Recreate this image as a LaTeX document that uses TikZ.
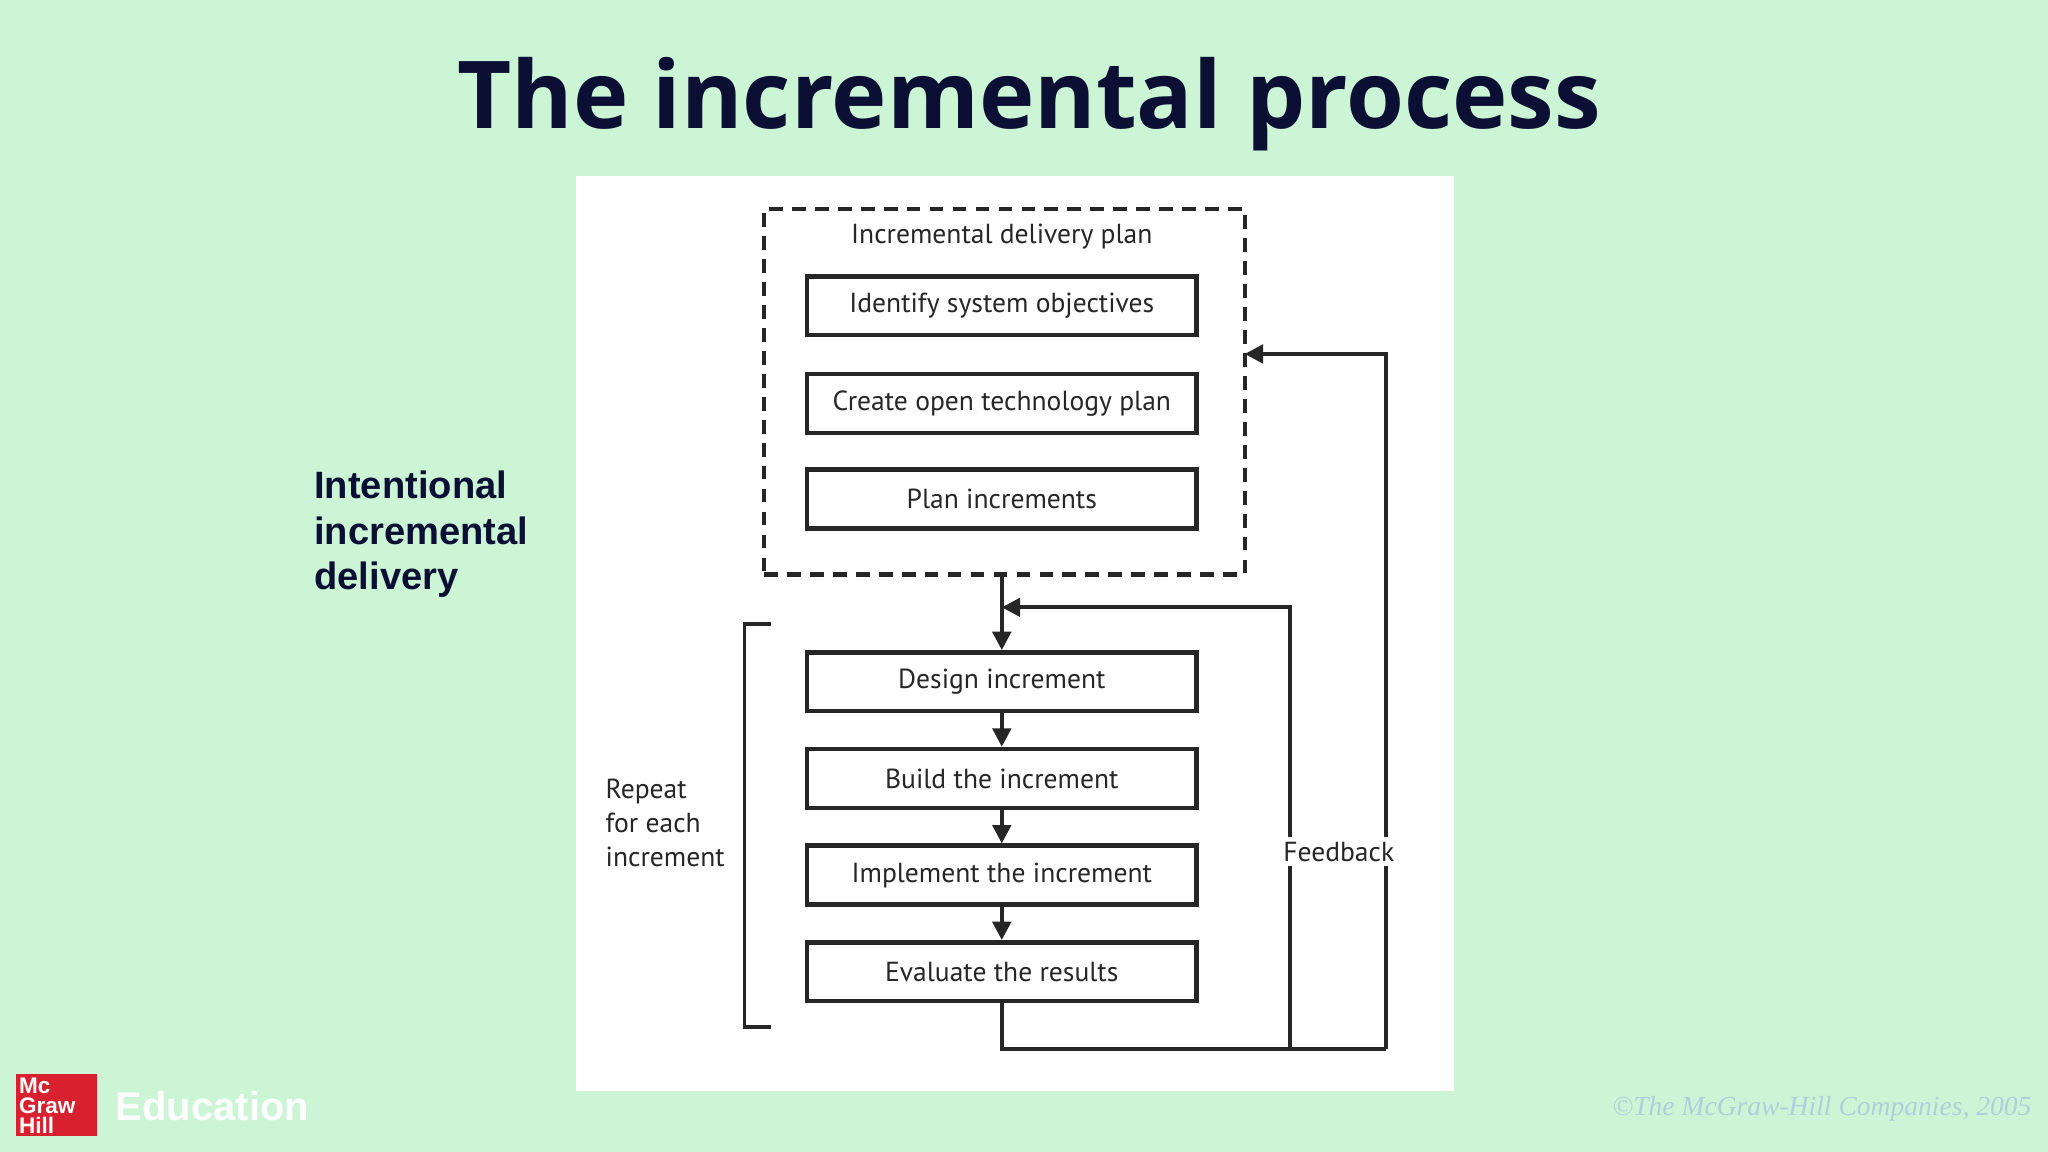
\documentclass[tikz,border=0pt]{standalone}
\usepackage{fontspec}
\setmainfont{Open Sans}
\newfontfamily\ttl{Open Sans}
\newfontfamily\arl{Liberation Sans}
\newfontfamily\dia{PT Sans}
\newfontfamily\cpy{Liberation Serif}
\usetikzlibrary{arrows.meta}
\definecolor{bg}{HTML}{CCF5D6}
\definecolor{navy}{HTML}{0A0F33}
\definecolor{mhred}{HTML}{D9202E}
\begin{document}
\begin{tikzpicture}[x=0.01cm,y=-0.01cm,
 box/.style={draw=black!85,line width=1pt,minimum width=2.98cm,minimum height=0.45cm,inner sep=0pt,font=\dia\fontsize{6}{7}\selectfont,text=black!85},
 ln/.style={draw=black!85,line width=0.85pt},
 arr/.style={ln,-{Triangle[length=4pt,width=4pt]}}]
\fill[bg] (0,0) rectangle (1568,882);
\useasboundingbox (0,0) rectangle (1568,882);
\node[font=\ttl\bfseries\fontsize{20.4}{24}\selectfont,text=navy] (title) at (788,80) {The incremental process};
\fill[white] (441,135) rectangle (1113,835);
\node[ln,dashed,line width=1pt,dash pattern=on 3pt off 2pt,minimum width=3.68cm,minimum height=2.80cm,inner sep=0pt] (plan) at (769,300) {};
\node[font=\dia\fontsize{6}{7}\selectfont,text=black!85] (plant) at (767,181) {Incremental delivery plan};
\node[box] (b1) at (767,234) {Identify system objectives};
\node[box] (b2) at (767,309) {Create open technology plan};
\node[box] (b3) at (767,382) {Plan increments};
\node[box] (d1) at (767,522) {Design increment};
\node[box] (d2) at (767,596) {Build the increment};
\node[box] (d3) at (767,670) {Implement the increment};
\node[box] (d4) at (767,744) {Evaluate the results};
\draw[arr] (plan.south -| d1.north) -- (d1.north);
\draw[arr] (d1) -- (d2);
\draw[arr] (d2) -- (d3);
\draw[arr] (d3) -- (d4);
\coordinate (c2) at (988,803);
\coordinate (c3) at (1061,803);
\coordinate (j2) at (953,271);
\draw[ln] (d4.south) -- (d4.south |- c3) -- (c3);
\draw[arr] (c2) -- (988,465) -- (d1.north |- 0,465);
\draw[arr] (c3) -- (1061,271) -- (j2);
\node[fill=white,inner sep=1pt,font=\dia\fontsize{6}{7}\selectfont,text=black!85] (fb) at (1025,652) {Feedback};
\draw[ln] (590,478) -- (570,478) -- (570,786) -- (590,786);
\node[align=left,anchor=west,font=\dia\fontsize{6}{7.4}\selectfont,text=black!85,inner sep=0pt] (rep) at (463,630) {Repeat\\for each\\increment};
\node[align=left,anchor=west,font=\arl\bfseries\fontsize{8.3}{10}\selectfont,text=navy,inner sep=0pt] (int) at (240,409) {Intentional\\incremental\\delivery};
\node[fill=mhred,minimum width=0.62cm,minimum height=0.47cm,inner sep=0pt] (logo) at (43,846) {};
\node[align=left,anchor=north west,font=\arl\bfseries\fontsize{4.9}{4.3}\selectfont,text=white,inner sep=0pt] (logot) at (14,825) {Mc\\Graw\\Hill};
\node[anchor=west,font=\arl\bfseries\fontsize{8.7}{11}\selectfont,text=white,inner sep=0pt] (edu) at (88,847) {Education};
\node[anchor=east,font=\cpy\itshape\fontsize{6}{8}\selectfont,text=blue!15!bg,inner sep=0pt] (cp) at (1556,849) {\textcopyright The McGraw-Hill Companies, 2005};
\end{tikzpicture}
\end{document}
